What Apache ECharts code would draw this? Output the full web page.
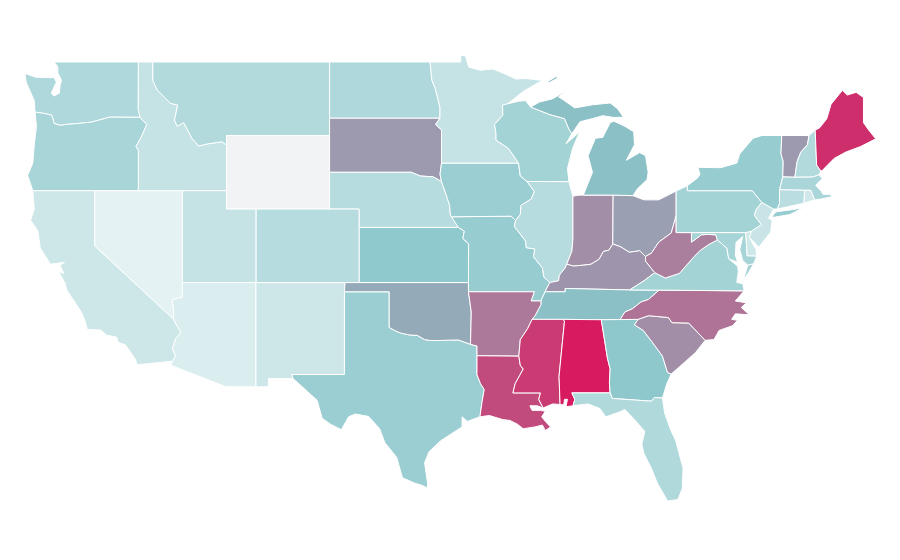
<!DOCTYPE html>
<html><head><meta charset="utf-8">
<style>html,body{margin:0;padding:0;background:#fff}#c{width:900px;height:560px}</style>
<script src="https://cdn.jsdelivr.net/npm/echarts@6/dist/echarts.min.js"></script>
</head><body><div id="c"></div>
<script>
// Values read from the shading of each state (Wyoming has no value)
const stateNames = ["Nevada","Arizona","California","New Mexico","Idaho","Utah","Minnesota","New Jersey","Delaware","Rhode Island","Connecticut","Colorado","Nebraska","Illinois","Montana","Washington","North Dakota","Florida","New Hampshire","Oregon","Massachusetts","Wisconsin","Pennsylvania","Virginia","Maryland","Iowa","Texas","Missouri","New York","Kansas","Georgia","Tennessee","Michigan","Oklahoma","Ohio","South Dakota","Vermont","Kentucky","Indiana","South Carolina","West Virginia","Arkansas","North Carolina","Louisiana","Mississippi","Maine","Alabama"];
const stateValues = [6.6,11.3,17.5,17.5,21,21,21,20,17,16,27,28,28,28,30,32,32,31,30,35,34,37,37,37,36,41,41,43,43,46,47,51.5,51.5,58,61,63,63,64,66,66,71,72.5,74,86,91,94.5,100];
const rampColors = ["#f2f9fa","#88c5c9","#d81b60"];
const noDataColor = "#f2f3f5";

// State outlines, longitude / latitude
const outlines = {
"Washington":[[[-122.76,49],[-117.03,49],[-117.04,46.42],[-116.92,45.99],[-118.98,46],[-119.3,45.93],[-120.2,45.73],[-121.2,45.65],[-122,45.6],[-122.3,45.55],[-122.75,45.65],[-122.9,46.1],[-123.4,46.2],[-124.05,46.27],[-124.1,46.9],[-124.35,47.35],[-124.65,47.9],[-124.73,48.38],[-124,48.17],[-123.1,48.15],[-122.75,48.15],[-122.6,47.9],[-122.95,47.3],[-122.75,47.15],[-122.4,47.3],[-122.35,47.7],[-122.25,48],[-122.5,48.4],[-122.5,48.75]]],
"Oregon":[[[-124.05,46.27],[-123.4,46.2],[-122.9,46.1],[-122.75,45.65],[-122.3,45.55],[-122,45.6],[-121.2,45.65],[-120.2,45.73],[-119.3,45.93],[-118.98,46],[-116.92,45.99],[-116.46,45.6],[-116.85,44.9],[-117.2,44.4],[-117.03,44.2],[-117.03,42],[-124.2,42],[-124.55,42.84],[-124.2,43.5],[-124.1,44.5],[-123.95,45.5]]],
"California":[[[-124.2,42],[-120,42],[-120,39],[-114.63,35],[-114.45,34.7],[-114.14,34.3],[-114.5,33.95],[-114.72,33.4],[-114.5,33],[-114.72,32.72],[-117.12,32.53],[-117.25,32.85],[-117.9,33.6],[-118.4,33.75],[-118.5,34.03],[-119.2,34.15],[-119.6,34.42],[-120.5,34.45],[-120.65,34.9],[-120.9,35.4],[-121.9,36.6],[-122,36.95],[-122.45,37.6],[-122.1,37.5],[-122.35,37.95],[-122.05,38.1],[-122.5,38.05],[-123,38],[-123.7,38.9],[-123.85,39.8],[-124.35,40.4],[-124.1,41]]],
"Nevada":[[[-120,42],[-114.05,42],[-114.05,36.2],[-114.35,36.15],[-114.74,36.05],[-114.65,35.6],[-114.63,35],[-120,39]]],
"Idaho":[[[-117.03,49],[-116.05,49],[-116.05,48],[-115.76,47.48],[-114.86,46.75],[-114.36,46.66],[-114.58,45.84],[-114.4,45.5],[-113.95,45.7],[-113.4,44.85],[-112.94,44.43],[-112.3,44.55],[-111.35,44.66],[-111.05,44.48],[-111.05,42],[-117.03,42],[-117.03,44.2],[-117.2,44.4],[-116.85,44.9],[-116.46,45.6],[-116.92,45.99],[-117.04,46.42]]],
"Montana":[[[-116.05,49],[-104.05,49],[-104.05,45],[-111.05,45],[-111.05,44.48],[-111.35,44.66],[-112.3,44.55],[-112.94,44.43],[-113.4,44.85],[-113.95,45.7],[-114.4,45.5],[-114.58,45.84],[-114.36,46.66],[-114.86,46.75],[-115.76,47.48],[-116.05,48]]],
"Wyoming":[[[-111.05,45],[-104.05,45],[-104.05,41],[-111.05,41]]],
"North Dakota":[[[-104.05,49],[-97.23,49],[-97.1,48],[-96.85,47.5],[-96.55,46.5],[-96.56,45.94],[-104.05,45.94]]],
"South Dakota":[[[-104.05,45.94],[-96.56,45.94],[-96.85,45.6],[-96.45,45.3],[-96.45,43.5],[-96.55,42.9],[-96.45,42.49],[-97,42.75],[-97.9,42.8],[-98.5,43],[-104.05,43]]],
"Nebraska":[[[-104.05,43],[-98.5,43],[-97.9,42.8],[-97,42.75],[-96.45,42.49],[-96.1,41.7],[-95.9,41.2],[-95.85,40.7],[-95.77,40.58],[-95.31,40],[-102.05,40],[-102.05,41],[-104.05,41]]],
"Kansas":[[[-102.05,40],[-95.31,40],[-94.9,39.8],[-95,39.4],[-94.61,39.11],[-94.62,37],[-102.05,37]]],
"Colorado":[[[-109.05,41],[-102.05,41],[-102.05,37],[-109.05,37]]],
"Utah":[[[-114.05,42],[-111.05,42],[-111.05,41],[-109.05,41],[-109.05,37],[-114.05,37]]],
"Arizona":[[[-114.05,37],[-109.05,37],[-109.05,31.33],[-111.07,31.33],[-114.82,32.5],[-114.72,32.72],[-114.5,33],[-114.72,33.4],[-114.5,33.95],[-114.14,34.3],[-114.45,34.7],[-114.63,35],[-114.65,35.6],[-114.74,36.05],[-114.35,36.15],[-114.05,36.2]]],
"New Mexico":[[[-109.05,37],[-103,37],[-103.04,36.5],[-103.04,32],[-106.62,32],[-106.53,31.78],[-108.2,31.78],[-108.2,31.33],[-109.05,31.33]]],
"Texas":[[[-103.04,36.5],[-100,36.5],[-100,34.56],[-99.6,34.38],[-99.2,34.25],[-98.6,34.15],[-98.1,34.13],[-97.6,33.9],[-97.2,33.85],[-96.6,33.85],[-95.9,33.87],[-95.3,33.88],[-94.48,33.64],[-94.04,33.55],[-94.04,33.02],[-94.04,31.99],[-93.8,31.5],[-93.55,31.18],[-93.7,30.5],[-93.84,29.7],[-94.7,29.45],[-95.05,29.7],[-95.06,29.15],[-95.35,29],[-96.5,28.4],[-97.3,27.8],[-97.6,27.2],[-97.4,26.1],[-97.4,25.82],[-97.7,25.95],[-98.3,26.1],[-99.1,26.38],[-99.5,27.5],[-100.3,28.3],[-100.65,29.05],[-101.4,29.72],[-102.3,29.85],[-102.76,29.7],[-103.25,29],[-104,29.3],[-104.55,29.62],[-104.9,30.6],[-106,31.4],[-106.53,31.78],[-106.62,32],[-103.04,32]]],
"Oklahoma":[[[-103,37],[-94.62,37],[-94.62,36.5],[-94.43,35.4],[-94.48,33.64],[-95.3,33.88],[-95.9,33.87],[-96.6,33.85],[-97.2,33.85],[-97.6,33.9],[-98.1,34.13],[-98.6,34.15],[-99.2,34.25],[-99.6,34.38],[-100,34.56],[-100,36.5],[-103.04,36.5]]],
"Missouri":[[[-95.77,40.58],[-91.73,40.61],[-91.42,40.38],[-91.5,40.05],[-90.73,39.25],[-90.7,38.9],[-90.12,38.83],[-90.2,38.4],[-89.6,37.8],[-89.5,37.3],[-89.1,37],[-89.42,36.5],[-89.7,36],[-90.37,36],[-90.15,36.5],[-94.62,36.5],[-94.62,37],[-94.61,39.11],[-95,39.4],[-94.9,39.8],[-95.31,40]]],
"Iowa":[[[-96.45,43.5],[-91.22,43.5],[-91.1,42.8],[-90.64,42.5],[-90.15,41.95],[-90.35,41.55],[-91.05,41.2],[-91.1,40.7],[-91.42,40.38],[-91.73,40.61],[-95.77,40.58],[-95.85,40.7],[-95.9,41.2],[-96.1,41.7],[-96.45,42.49],[-96.55,42.9]]],
"Minnesota":[[[-97.23,49],[-95.15,49],[-95.15,49.38],[-94.82,49.32],[-94.6,48.72],[-93.8,48.55],[-92.95,48.62],[-92,48.3],[-91.4,48.07],[-90.75,48.1],[-89.6,48],[-90.9,47.4],[-92,46.7],[-92.3,46.66],[-92.29,46.1],[-92.85,45.6],[-92.75,45.1],[-92.75,44.75],[-91.9,44.3],[-91.22,43.5],[-96.45,43.5],[-96.45,45.3],[-96.85,45.6],[-96.56,45.94],[-96.55,46.5],[-96.85,47.5],[-97.1,48]]],
"Wisconsin":[[[-92.3,46.66],[-91.2,46.87],[-90.75,46.9],[-90.4,46.55],[-89.1,46.14],[-88.1,45.92],[-87.8,45.35],[-87.6,45.1],[-88,44.55],[-87.35,45],[-87.05,45.25],[-87.55,44.3],[-87.9,43.2],[-87.8,42.49],[-90.64,42.5],[-91.1,42.8],[-91.22,43.5],[-91.9,44.3],[-92.75,44.75],[-92.75,45.1],[-92.85,45.6],[-92.29,46.1]]],
"Illinois":[[[-90.64,42.5],[-87.8,42.49],[-87.53,41.7],[-87.53,39.35],[-87.6,38.7],[-87.95,38],[-88.05,37.8],[-88.45,37.4],[-88.5,37.1],[-89.1,37],[-89.5,37.3],[-89.6,37.8],[-90.2,38.4],[-90.12,38.83],[-90.7,38.9],[-90.73,39.25],[-91.5,40.05],[-91.42,40.38],[-91.1,40.7],[-91.05,41.2],[-90.35,41.55],[-90.15,41.95]]],
"Indiana":[[[-87.53,41.7],[-87.2,41.75],[-86.82,41.76],[-84.8,41.76],[-84.82,39.1],[-85.1,38.75],[-85.45,38.7],[-85.75,38.27],[-86.3,38],[-86.8,37.95],[-87.5,37.9],[-87.95,38],[-87.6,38.7],[-87.53,39.35]]],
"Ohio":[[[-84.8,41.76],[-83.45,41.73],[-82.7,41.5],[-81.7,41.5],[-80.52,41.98],[-80.52,40.64],[-80.85,39.7],[-81.7,39.2],[-82.2,38.6],[-82.6,38.42],[-83,38.73],[-83.7,38.65],[-84.3,38.95],[-84.82,39.1]]],
"Michigan":[[[-86.82,41.76],[-84.8,41.76],[-83.45,41.73],[-83.15,42.1],[-82.5,42.6],[-82.42,43],[-82.6,43.9],[-83,44.07],[-83.9,43.65],[-83.35,44.5],[-83.4,45.2],[-84,45.5],[-84.75,45.78],[-85,45.7],[-85.5,44.9],[-86,44.85],[-86.5,43.9],[-86.2,43],[-86.6,42.2]],[[-90.4,46.55],[-89.1,46.14],[-88.1,45.92],[-87.8,45.35],[-87.6,45.1],[-87.05,45.75],[-86.3,45.9],[-85.5,46.08],[-84.75,45.98],[-84.1,46],[-84.5,46.46],[-85,46.77],[-86.2,46.67],[-87.4,46.5],[-88.2,46.95],[-88.5,47.1],[-87.9,47.47],[-88.9,47],[-89.8,46.82]],[[-89.2,47.85],[-88.5,48.15],[-88.7,48.2],[-89.2,47.95]]],
"Kentucky":[[[-89.1,37],[-88.5,37.1],[-88.45,37.4],[-88.05,37.8],[-87.95,38],[-87.5,37.9],[-86.8,37.95],[-86.3,38],[-85.75,38.27],[-85.45,38.7],[-85.1,38.75],[-84.82,39.1],[-84.3,38.95],[-83.7,38.65],[-83,38.73],[-82.6,38.42],[-82.6,38.17],[-81.97,37.54],[-82.7,37.1],[-83.68,36.6],[-88.05,36.68],[-88.05,36.5],[-89.42,36.5]]],
"Tennessee":[[[-89.42,36.5],[-88.05,36.5],[-88.05,36.68],[-83.68,36.6],[-81.68,36.59],[-82.4,36.08],[-82.9,35.95],[-83.5,35.57],[-84,35.4],[-84.32,34.99],[-85.6,34.98],[-88.2,35],[-90.3,35],[-90.1,35.2],[-89.7,35.8],[-89.7,36]]],
"Arkansas":[[[-94.62,36.5],[-90.15,36.5],[-90.37,36],[-89.7,36],[-89.7,35.8],[-90.1,35.2],[-90.3,35],[-90.6,34.5],[-91.1,33.9],[-91.2,33],[-94.04,33.02],[-94.04,33.55],[-94.48,33.64],[-94.43,35.4]]],
"Louisiana":[[[-94.04,33.02],[-91.2,33],[-91.1,32.5],[-90.9,32.3],[-91.45,31.5],[-91.6,31],[-89.73,31],[-89.85,30.65],[-89.55,30.18],[-89.95,30.3],[-90.45,30.3],[-90.3,30.05],[-89.75,30.05],[-89.4,30],[-89.65,29.7],[-89.4,29.45],[-89.05,29.15],[-89.4,28.95],[-89.6,29.25],[-90.1,29.15],[-90.9,29.05],[-91.3,29.3],[-91.8,29.5],[-92.3,29.55],[-93.2,29.77],[-93.84,29.7],[-93.7,30.5],[-93.55,31.18],[-93.8,31.5],[-94.04,31.99]]],
"Mississippi":[[[-90.3,35],[-88.2,35],[-88.1,34.9],[-88.47,31.9],[-88.4,30.37],[-88.9,30.4],[-89.55,30.18],[-89.85,30.65],[-89.73,31],[-91.6,31],[-91.45,31.5],[-90.9,32.3],[-91.1,32.5],[-91.2,33],[-91.1,33.9],[-90.6,34.5]]],
"Alabama":[[[-88.2,35],[-85.6,34.98],[-85.18,32.87],[-85,32.3],[-85.05,31.55],[-85,31],[-87.6,31],[-87.4,30.65],[-87.52,30.3],[-88,30.25],[-87.9,30.65],[-88.1,30.65],[-88.15,30.35],[-88.4,30.37],[-88.47,31.9],[-88.1,34.9]]],
"Georgia":[[[-85.6,34.98],[-84.32,34.99],[-83.1,35],[-83.35,34.7],[-82.75,34.4],[-81.9,33.5],[-81.45,33],[-81.1,32.1],[-80.85,32.03],[-81.15,31.5],[-81.45,30.72],[-82,30.75],[-82.2,30.55],[-84.86,30.7],[-85,31],[-85.05,31.55],[-85,32.3],[-85.18,32.87]]],
"Florida":[[[-87.6,31],[-85,31],[-84.86,30.7],[-82.2,30.55],[-82,30.75],[-81.45,30.72],[-81.3,29.9],[-80.9,29],[-80.55,28.4],[-80.05,26.9],[-80.1,25.8],[-80.4,25.2],[-81.1,25.12],[-81.8,26.1],[-82.2,26.9],[-82.7,27.7],[-82.85,28.2],[-82.65,28.9],[-83.4,29.6],[-84,30.1],[-84.4,29.95],[-85.3,29.7],[-85.7,30.15],[-86.5,30.4],[-87.52,30.3],[-87.4,30.65]]],
"South Carolina":[[[-83.1,35],[-82.4,35.2],[-81.05,35.1],[-80.8,34.82],[-79.67,34.8],[-78.55,33.86],[-79.2,33.2],[-79.9,32.7],[-80.85,32.03],[-81.1,32.1],[-81.45,33],[-81.9,33.5],[-82.75,34.4],[-83.35,34.7]]],
"North Carolina":[[[-84.32,34.99],[-83.1,35],[-82.4,35.2],[-81.05,35.1],[-80.8,34.82],[-79.67,34.8],[-78.55,33.86],[-77.95,33.9],[-77.6,34.4],[-76.7,34.65],[-76.35,34.95],[-76.75,35],[-76.5,35.3],[-75.55,35.25],[-76.1,35.65],[-75.75,35.9],[-76.5,36],[-75.9,36.55],[-81.68,36.59],[-82.4,36.08],[-82.9,35.95],[-83.5,35.57],[-84,35.4]]],
"Virginia":[[[-83.68,36.6],[-81.68,36.59],[-75.9,36.55],[-76,36.95],[-76.4,37],[-76.3,37.6],[-76.35,37.9],[-76.95,38.3],[-77.05,38.75],[-77.05,38.85],[-77.72,39.32],[-78.35,39.05],[-78.87,38.76],[-79.3,38.42],[-80.3,37.5],[-81.25,37.25],[-81.97,37.54],[-82.7,37.1]],[[-75.95,37.15],[-75.6,37.55],[-75.25,38.03],[-75.65,37.95]]],
"West Virginia":[[[-82.6,38.42],[-82.2,38.6],[-81.7,39.2],[-80.85,39.7],[-80.52,40.64],[-80.52,39.72],[-79.48,39.72],[-79.48,39.2],[-78.8,39.6],[-78.4,39.62],[-77.83,39.6],[-77.72,39.32],[-78.35,39.05],[-78.87,38.76],[-79.3,38.42],[-80.3,37.5],[-81.25,37.25],[-81.97,37.54],[-82.6,38.17]]],
"Maryland":[[[-79.48,39.72],[-75.79,39.72],[-75.7,38.46],[-75.05,38.45],[-75.25,38.03],[-75.65,37.95],[-76,38.2],[-76.2,38.8],[-76,39.5],[-76.45,39.2],[-76.5,38.5],[-76.35,38.1],[-76.95,38.3],[-77.05,38.75],[-77.05,38.85],[-77.72,39.32],[-77.83,39.6],[-78.4,39.62],[-78.8,39.6],[-79.48,39.2]]],
"Delaware":[[[-75.79,39.72],[-75.4,39.8],[-75.55,39.45],[-75.1,38.8],[-75.05,38.45],[-75.7,38.46]]],
"Pennsylvania":[[[-80.52,41.98],[-79.76,42.27],[-79.76,42],[-75.35,42],[-74.7,41.36],[-75.1,40.95],[-75.2,40.65],[-74.72,40.15],[-75.4,39.8],[-75.79,39.72],[-80.52,39.72],[-80.52,40.64]]],
"New Jersey":[[[-74.7,41.36],[-73.9,41],[-74.25,40.5],[-74,40.4],[-74.1,39.75],[-74.9,38.93],[-75.55,39.45],[-75.4,39.8],[-74.72,40.15],[-75.2,40.65],[-75.1,40.95]]],
"New York":[[[-79.76,42.27],[-79.05,42.7],[-78.9,42.9],[-79.05,43.27],[-77.5,43.25],[-76.4,43.5],[-76.2,44],[-75.3,44.85],[-74.7,45],[-73.35,45],[-73.4,44],[-73.25,43.6],[-73.28,42.75],[-73.5,42.05],[-73.5,41.3],[-73.65,41],[-73.9,41],[-74.7,41.36],[-75.35,42],[-79.76,42]],[[-74,40.6],[-73.75,40.85],[-72.6,40.97],[-71.9,41.07],[-72.8,40.7],[-73.9,40.55]]],
"Vermont":[[[-73.35,45],[-71.5,45],[-71.6,44.5],[-72.05,44.1],[-72.3,43.6],[-72.46,42.73],[-73.28,42.75],[-73.25,43.6],[-73.4,44]]],
"New Hampshire":[[[-71.5,45],[-71.08,45.3],[-70.98,43.4],[-70.7,43.07],[-70.82,42.87],[-71.25,42.74],[-72.46,42.73],[-72.3,43.6],[-72.05,44.1],[-71.6,44.5]]],
"Maine":[[[-71.08,45.3],[-70.8,45.4],[-70.3,45.9],[-70,46.7],[-69.23,47.46],[-68.9,47.2],[-68.3,47.35],[-67.8,47.07],[-67.8,45.7],[-67.45,45.3],[-66.97,44.82],[-68,44.4],[-69,44.1],[-69.8,43.75],[-70.6,43.1],[-70.7,43.07],[-70.98,43.4]]],
"Massachusetts":[[[-73.5,42.05],[-73.28,42.75],[-72.46,42.73],[-71.25,42.74],[-70.82,42.87],[-70.6,42.65],[-71.05,42.3],[-70.65,41.95],[-70.55,41.8],[-70,41.8],[-70.15,42.05],[-69.95,41.67],[-70.65,41.55],[-71.12,41.5],[-71.38,42.02],[-71.8,42.02]]],
"Rhode Island":[[[-71.8,42.02],[-71.38,42.02],[-71.12,41.5],[-71.85,41.32]]],
"Connecticut":[[[-73.5,42.05],[-71.8,42.02],[-71.85,41.32],[-73.65,41],[-73.5,41.3]]]
};

const geo = {type:"FeatureCollection",features:Object.keys(outlines).map(n=>({type:"Feature",properties:{name:n},geometry:{type:"MultiPolygon",coordinates:outlines[n].map(r=>[r.concat([r[0]])])}}))};
echarts.registerMap("USA",geo);

const chart = echarts.init(document.getElementById("c"),null,{renderer:"canvas"});
chart.setOption({
  animation:false,
  backgroundColor:"#fff",
  visualMap:{show:false,min:0,max:100,inRange:{color:rampColors},seriesIndex:0},
  series:[{
    type:"map",map:"USA",
    left:25,top:55,width:851,height:446,
    aspectScale:0.8015,
    boundingCoords:[[-124.73,49.38],[-66.95,25.12]],
    silent:true,
    label:{show:false},
    itemStyle:{borderColor:"#ffffff",borderWidth:1,areaColor:noDataColor},
    data:stateNames.map((n,i)=>({name:n,value:stateValues[i]}))
  }]
});
</script></body></html>
